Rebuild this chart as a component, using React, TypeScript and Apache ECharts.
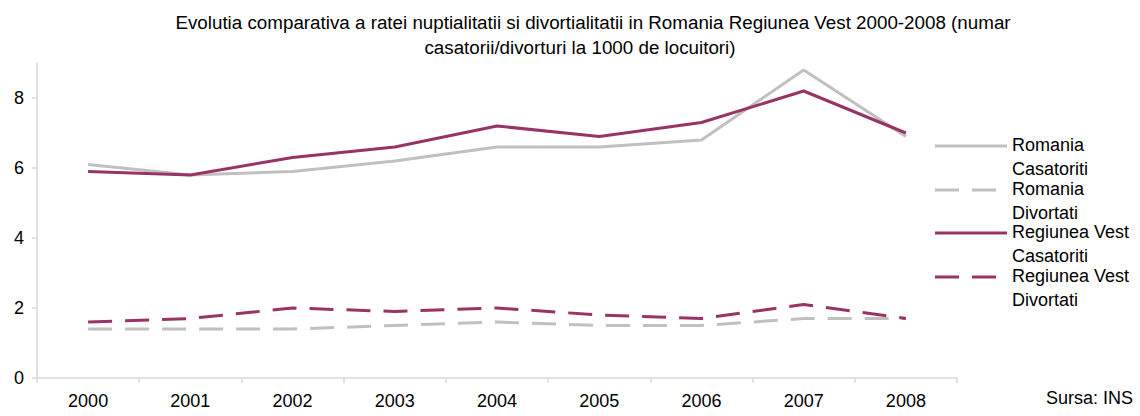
import React, { useEffect, useRef } from "react";
import * as echarts from "echarts";

const years = ["2000", "2001", "2002", "2003", "2004", "2005", "2006", "2007", "2008"];
const romaniaCasatoriti = [6.1, 5.8, 5.9, 6.2, 6.6, 6.6, 6.8, 8.8, 6.9];
const romaniaDivortati = [1.4, 1.4, 1.4, 1.5, 1.6, 1.5, 1.5, 1.7, 1.7];
const vestCasatoriti = [5.9, 5.8, 6.3, 6.6, 7.2, 6.9, 7.3, 8.2, 7.0];
const vestDivortati = [1.6, 1.7, 2.0, 1.9, 2.0, 1.8, 1.7, 2.1, 1.7];
const yTicks = [0, 2, 4, 6, 8];

const seriesNames = [
  ["Romania", "Casatoriti"],
  ["Romania", "Divortati"],
  ["Regiunea Vest", "Casatoriti"],
  ["Regiunea Vest", "Divortati"],
];

const GRAY = "#C0C0C0";
const PURPLE = "#993366";
const FONT = "'Liberation Sans', Arial, sans-serif";
const DASH = [24, 13];

export default function App() {
  const ref = useRef<HTMLDivElement>(null);
  useEffect(() => {
    document.body.style.margin = "0";
    if (!ref.current) return;
    const chart = echarts.init(ref.current, undefined, { renderer: "svg" });
    const values = [romaniaCasatoriti, romaniaDivortati, vestCasatoriti, vestDivortati];
    const colors = [GRAY, GRAY, PURPLE, PURPLE];
    const dashed = [false, true, false, true];

    const legendTop = [146, 190, 233, 277];
    const legendGraphics: any[] = [];
    seriesNames.forEach((nm, i) => {
      legendGraphics.push({
        type: "line",
        shape: { x1: 935, y1: legendTop[i], x2: 1007, y2: legendTop[i] },
        style: { stroke: colors[i], lineWidth: 3, lineDash: dashed[i] ? DASH : null },
      });
      legendGraphics.push({
        type: "text",
        x: 1012,
        y: legendTop[i] - 1,
        style: {
          text: nm[0],
          font: `18px ${FONT}`,
          fill: "#000",
          textAlign: "left",
          textVerticalAlign: "middle",
        },
      });
      legendGraphics.push({
        type: "text",
        x: 1012,
        y: legendTop[i] + 23,
        style: {
          text: nm[1],
          font: `18px ${FONT}`,
          fill: "#000",
          textAlign: "left",
          textVerticalAlign: "middle",
        },
      });
    });

    chart.setOption({
      animation: false,
      backgroundColor: "#fff",
      grid: { left: 37, right: 183, top: 63, bottom: 38, containLabel: false },
      xAxis: {
        type: "category",
        data: years,
        boundaryGap: true,
        axisLine: { lineStyle: { color: "#D9D9D9", width: 1.5 } },
        axisTick: { show: true, length: 5, lineStyle: { color: "#D9D9D9", width: 1.5 } },
        axisLabel: { color: "#000", fontSize: 18, fontFamily: FONT, margin: 14 },
        splitLine: { show: false },
      },
      yAxis: {
        type: "value",
        min: 0,
        max: 9,
        interval: 1,
        axisLine: { show: true, lineStyle: { color: "#D9D9D9", width: 1.5 } },
        axisTick: { show: true, length: 5, customValues: yTicks, lineStyle: { color: "#D9D9D9", width: 1.5 } },
        axisLabel: { color: "#000", fontSize: 18, fontFamily: FONT, margin: 13, customValues: yTicks },
        splitLine: { show: false },
      },
      series: values.map((v, i) => ({
        name: seriesNames[i].join(" "),
        type: "line",
        data: v,
        symbol: "none",
        lineStyle: { color: colors[i], width: 3, type: dashed[i] ? DASH : "solid" },
        itemStyle: { color: colors[i] },
        z: 2 + i,
      })),
      graphic: [
        {
          type: "text",
          x: 593,
          y: 22,
          style: {
            text: "Evolutia comparativa a ratei nuptialitatii si divortialitatii in Romania Regiunea Vest 2000-2008 (numar",
            font: `18.8px ${FONT}`,
            fill: "#000",
            textAlign: "center",
            textVerticalAlign: "middle",
          },
        },
        {
          type: "text",
          x: 580,
          y: 47,
          style: {
            text: "casatorii/divorturi la 1000 de locuitori)",
            font: `18.8px ${FONT}`,
            fill: "#000",
            textAlign: "center",
            textVerticalAlign: "middle",
          },
        },
        {
          type: "text",
          x: 1133,
          y: 398,
          style: {
            text: "Sursa: INS",
            font: `18px ${FONT}`,
            fill: "#000",
            textAlign: "right",
            textVerticalAlign: "middle",
          },
        },
        ...legendGraphics,
      ],
    });
    return () => chart.dispose();
  }, []);
  return <div ref={ref} style={{ width: 1140, height: 416 }} />;
}
